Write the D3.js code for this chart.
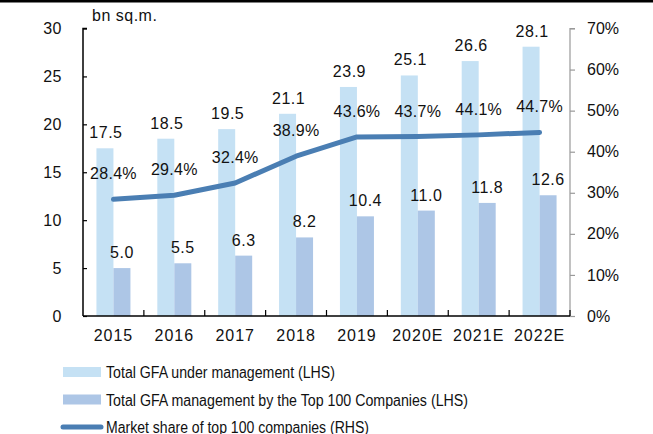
<!DOCTYPE html>
<html>
<head>
<meta charset="utf-8">
<script src="https://cdn.jsdelivr.net/npm/d3@7"></script>
<style>
  body { margin: 0; background: #fff; }
  svg { display: block; font-family: "Liberation Sans", Arial, sans-serif; }
</style>
</head>
<body>
<script>
const years = ["2015", "2016", "2017", "2018", "2019", "2020E", "2021E", "2022E"];
const totalGFA = [17.5, 18.5, 19.5, 21.1, 23.9, 25.1, 26.6, 28.1];
const top100GFA = [5.0, 5.5, 6.3, 8.2, 10.4, 11.0, 11.8, 12.6];
const marketShare = [28.4, 29.4, 32.4, 38.9, 43.6, 43.7, 44.1, 44.7];
const leftTicks = [0, 5, 10, 15, 20, 25, 30];
const rightTicks = [0, 10, 20, 30, 40, 50, 60, 70];

const width = 653, height = 434;
const plotL = 83, plotR = 570, plotT = 28.5, plotB = 316;

const svg = d3.select("body").append("svg")
    .attr("width", width)
    .attr("height", height);

// top border strip
svg.append("rect").attr("x", 0).attr("y", 0).attr("width", width).attr("height", 2.5).attr("fill", "#000");

const x = d3.scaleBand().domain(years).range([plotL, plotR]);
const yL = d3.scaleLinear().domain([0, 30]).range([plotB, plotT]);
const yR = d3.scaleLinear().domain([0, 70]).range([plotB, plotT]);

const barW = 17;
const c1 = "#c5e1f4", c2 = "#adc6e6", lineC = "#4a7eb3";

// bars
svg.selectAll(".b1").data(years).join("rect")
    .attr("x", d => x(d) + x.bandwidth() / 2 - barW)
    .attr("y", (d, i) => yL(totalGFA[i]))
    .attr("width", barW)
    .attr("height", (d, i) => plotB - yL(totalGFA[i]))
    .attr("fill", c1);

svg.selectAll(".b2").data(years).join("rect")
    .attr("x", d => x(d) + x.bandwidth() / 2)
    .attr("y", (d, i) => yL(top100GFA[i]))
    .attr("width", barW)
    .attr("height", (d, i) => plotB - yL(top100GFA[i]))
    .attr("fill", c2);

// line
const line = d3.line()
    .x((d, i) => x(years[i]) + x.bandwidth() / 2)
    .y(d => yR(d));
svg.append("path").datum(marketShare)
    .attr("d", line)
    .attr("fill", "none")
    .attr("stroke", lineC)
    .attr("stroke-width", 5)
    .attr("stroke-linecap", "round")
    .attr("stroke-linejoin", "round");

// axes
const fs = "16px";
const axL = svg.append("g").attr("transform", `translate(${plotL},0)`)
    .call(d3.axisRight(yL).tickValues(leftTicks).tickSize(4).tickFormat(d3.format("d")));
axL.select(".domain").attr("d", `M4,${plotT}H0V${plotB}`).attr("stroke", "#000").attr("stroke-width", 1.5);
axL.selectAll(".tick line").attr("stroke", "#000").attr("stroke-width", 1.2);
axL.selectAll(".tick text").attr("x", -21).attr("text-anchor", "end")
    .attr("fill", "#111").style("font-size", fs).style("letter-spacing", "0.5px");

const axR = svg.append("g").attr("transform", `translate(${plotR},0)`)
    .call(d3.axisRight(yR).tickValues(rightTicks).tickSize(5).tickFormat(d => d + "%"));
axR.select(".domain").attr("d", `M5,${plotT}H0V${plotB}`).attr("stroke", "#999").attr("stroke-width", 1.2);
axR.selectAll(".tick line").attr("stroke", "#999").attr("stroke-width", 1.2);
axR.selectAll(".tick text").attr("x", 17).attr("fill", "#111").style("font-size", fs);

const axX = svg.append("g").attr("transform", `translate(0,${plotB})`)
    .call(d3.axisBottom(x).tickSize(0));
axX.select(".domain").attr("d", `M${plotL},0H${plotR}`).attr("stroke", "#000").attr("stroke-width", 1.5);
axX.selectAll(".tick text").attr("y", 14).attr("fill", "#111")
    .style("font-size", fs).style("letter-spacing", "1px");
svg.append("g").selectAll("line").data(years).join("line")
    .attr("x1", (d, i) => plotL + (i + 1) * x.bandwidth())
    .attr("x2", (d, i) => plotL + (i + 1) * x.bandwidth())
    .attr("y1", plotB).attr("y2", plotB - 6)
    .attr("stroke", "#000").attr("stroke-width", 1.2);

// unit label
svg.append("text").attr("x", 92).attr("y", 21).text("bn sq.m.")
    .attr("fill", "#111").style("font-size", fs).style("letter-spacing", "0.5px");

// data labels
svg.selectAll(".l1").data(totalGFA).join("text")
    .attr("x", (d, i) => x(years[i]) + x.bandwidth() / 2 - barW / 2 + 1)
    .attr("y", d => yL(d) - 10)
    .attr("text-anchor", "middle")
    .attr("fill", "#111").style("font-size", fs).style("letter-spacing", "0.5px")
    .text(d => d.toFixed(1));

svg.selectAll(".l2").data(top100GFA).join("text")
    .attr("x", (d, i) => x(years[i]) + x.bandwidth() / 2 + barW / 2)
    .attr("y", d => yL(d) - 10)
    .attr("text-anchor", "middle")
    .attr("fill", "#111").style("font-size", fs).style("letter-spacing", "0.5px")
    .text(d => d.toFixed(1));

svg.selectAll(".l3").data(marketShare).join("text")
    .attr("x", (d, i) => x(years[i]) + x.bandwidth() / 2)
    .attr("y", d => yR(d) - 20)
    .attr("text-anchor", "middle")
    .attr("fill", "#111").style("font-size", fs).style("letter-spacing", "0.3px")
    .text(d => d.toFixed(1) + "%");

// legend
const legend = [
  { label: "Total GFA under management (LHS)", type: "bar", color: c1, w: 229 },
  { label: "Total GFA management by the Top 100 Companies (LHS)", type: "bar", color: c2, w: 362 },
  { label: "Market share of top 100 companies (RHS)", type: "line", color: lineC, w: 263 }
];
const lg = svg.append("g").selectAll("g").data(legend).join("g")
    .attr("transform", (d, i) => `translate(63,${372 + i * 27.5})`);
lg.filter(d => d.type === "bar").append("rect")
    .attr("x", 0).attr("y", -5).attr("width", 38).attr("height", 10).attr("fill", d => d.color);
lg.filter(d => d.type === "line").append("line")
    .attr("x1", 0).attr("x2", 38).attr("y1", 0).attr("y2", 0)
    .attr("stroke", d => d.color).attr("stroke-width", 5).attr("stroke-linecap", "round");
lg.append("text").attr("x", 43).attr("y", 6).text(d => d.label)
    .attr("textLength", d => d.w).attr("lengthAdjust", "spacingAndGlyphs")
    .attr("fill", "#111").style("font-size", fs);
</script>
</body>
</html>
